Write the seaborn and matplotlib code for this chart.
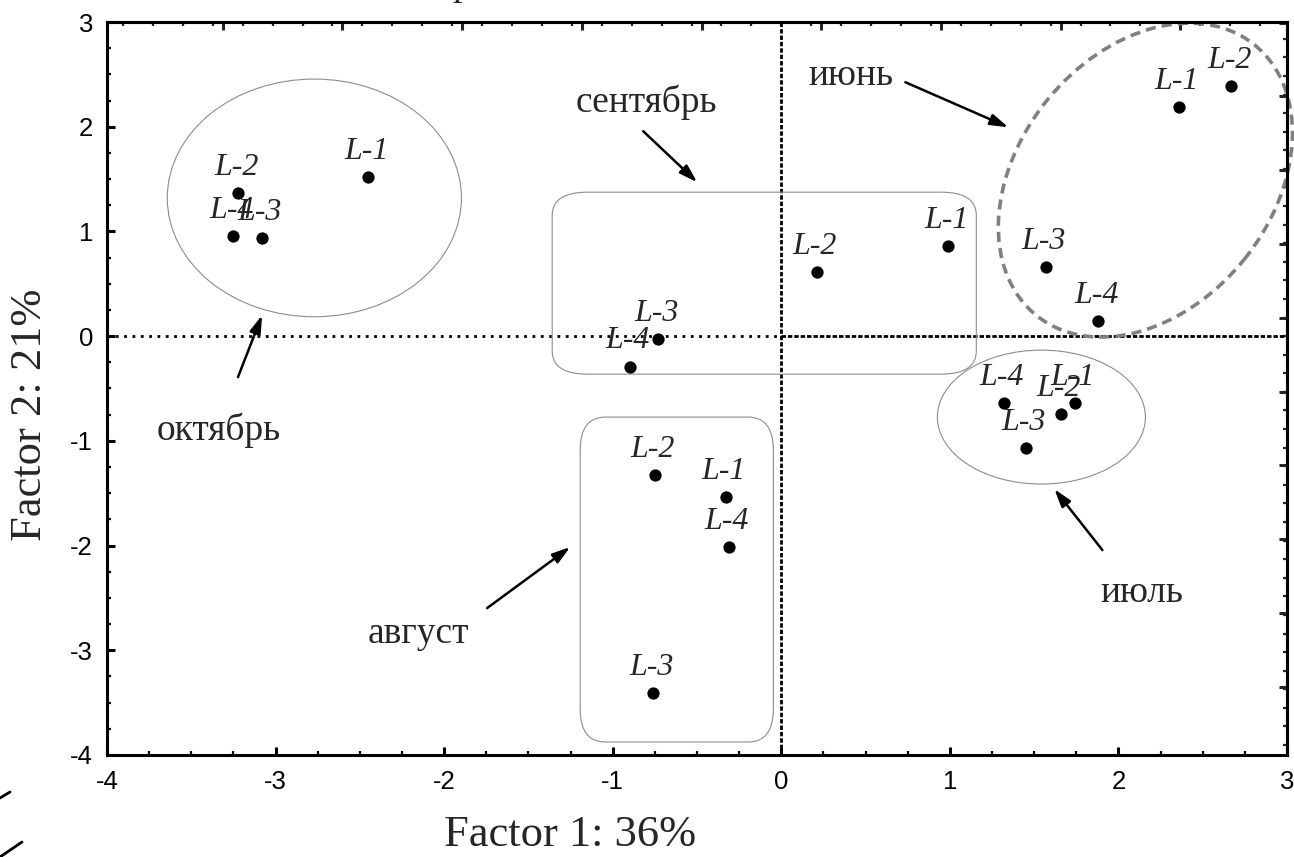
import numpy as np
import pandas as pd
import matplotlib
matplotlib.use("Agg")
import matplotlib.pyplot as plt
import seaborn as sns
from matplotlib.patches import Ellipse, FancyBboxPatch
from matplotlib.ticker import MultipleLocator, FixedLocator
from matplotlib.transforms import Affine2D
from matplotlib.lines import Line2D

# ---- data ----
months = ["июнь"] * 4 + ["июль"] * 4 + ["август"] * 4 + ["сентябрь"] * 4 + ["октябрь"] * 4
sites = ["L-1", "L-2", "L-3", "L-4"] * 5
factor1 = [2.36, 2.67, 1.57, 1.88,
           1.74, 1.66, 1.45, 1.32,
           -0.33, -0.75, -0.76, -0.31,
           0.99, 0.21, -0.73, -0.90,
           -2.45, -3.22, -3.08, -3.25]
factor2 = [2.19, 2.39, 0.66, 0.14,
           -0.64, -0.74, -1.07, -0.64,
           -1.54, -1.33, -3.41, -2.01,
           0.86, 0.61, -0.03, -0.29,
           1.52, 1.37, 0.94, 0.96]

# month captions and their arrows
group_names = ["июнь", "июль", "август", "сентябрь", "октябрь"]
caption_x = [0.41, 2.14, -2.15, -0.80, -3.34]
caption_y = [2.40, -2.54, -2.93, 2.14, -0.99]
arrow_from = [(0.736, 2.425), (1.905, -2.043), (-1.745, -2.597), (-0.819, 1.957), (-3.223, -0.391)]
arrow_to = [(1.347, 1.995), (1.620, -1.461), (-1.252, -2.014), (-0.499, 1.470), (-3.080, 0.200)]

df = pd.DataFrame({"month": months, "site": sites, "f1": factor1, "f2": factor2})

sns.set_theme(style="ticks")
plt.rcParams["font.family"] = ["Liberation Serif", "DejaVu Serif"]
plt.rcParams["axes.linewidth"] = 2.2
plt.rcParams["axes.unicode_minus"] = False

fig = plt.figure(figsize=(12.94, 8.57), dpi=100)
ax = fig.add_axes([107 / 1294, 1 - 755 / 857, (1287 - 107) / 1294, (755 - 22) / 857])

# reference lines through the origin
ax.plot([-4, 0], [0, 0], color="black", lw=2, linestyle=(0, (1, 2)), zorder=1)
ax.plot([0, 3], [0, 0], color="black", lw=2, linestyle=(0, (1.6, 0.7)), zorder=1)
ax.plot([0, 0], [-4, 3], color="black", lw=2, linestyle=(0, (1.6, 0.7)), zorder=1)

sns.scatterplot(data=df, x="f1", y="f2", color="black", s=78, edgecolor="black",
                linewidth=0, legend=False, ax=ax, zorder=3)

for _, r in df.iterrows():
    ax.annotate(r["site"], (r["f1"], r["f2"]), xytext=(-1.5, 13), textcoords="offset points",
                ha="center", va="baseline", fontsize=23, fontstyle="italic", zorder=4)

# group outlines
thin = dict(fill=False, edgecolor="#8c8c8c", lw=0.8, zorder=2)
ax.add_patch(Ellipse((-2.77, 1.32), 1.745, 2.27, **thin))
ax.add_patch(Ellipse((1.543, -0.773), 1.234, 1.279, **thin))
ax.add_patch(FancyBboxPatch((-1.359, -0.363), 2.516, 1.738,
                            boxstyle="round,pad=0,rounding_size=0.21", mutation_aspect=1.05, **thin))
ax.add_patch(FancyBboxPatch((-1.193, -3.876), 1.146, 3.103,
                            boxstyle="round,pad=0,rounding_size=0.15", mutation_aspect=2.1, **thin))
# rotated dashed ellipse for June, sized in screen pixels then mapped to data
june_tr = Affine2D().scale(1 / 168.5, 1 / 104.75).translate(2.16, 1.49) + ax.transData
ax.add_patch(Ellipse((0, 0), 2 * 173.8, 2 * 126.7, angle=51.2, transform=june_tr, fill=False,
                     edgecolor="#808080", lw=2.6, linestyle=(0, (2.8, 1.7)), zorder=2, clip_on=False))

for name, tx, ty, a0, a1 in zip(group_names, caption_x, caption_y, arrow_from, arrow_to):
    ax.text(tx, ty, name, ha="center", va="baseline", fontsize=27, zorder=4)
    ax.annotate("", xy=a1, xytext=a0,
                arrowprops=dict(arrowstyle="-|>,head_length=0.9,head_width=0.28", lw=1.8,
                                color="black", shrinkA=0, shrinkB=0), zorder=4)

ax.set_xlim(-4, 3)
ax.set_ylim(-4, 3)
ax.set_xlabel("")
ax.set_ylabel("")
ax.xaxis.set_major_locator(MultipleLocator(1))
ax.yaxis.set_major_locator(MultipleLocator(1))
ax.xaxis.set_minor_locator(MultipleLocator(0.25))
ax.yaxis.set_minor_locator(MultipleLocator(0.25))
ax.tick_params(which="both", direction="in", color="black", top=False, right=False)
ax.tick_params(which="major", length=6, width=2.2, labelsize=18.5, labelfontfamily="Liberation Sans",
               labelcolor="black")
ax.tick_params(which="minor", length=3, width=1.6)
ax.tick_params(axis="x", which="major", pad=11)
ax.tick_params(axis="y", which="major", pad=10)
for s in ax.spines.values():
    s.set_visible(True)
    s.set_linewidth(2.2)
    s.set_color("black")

# top / right ticks follow another spacing in the original
top = ax.secondary_xaxis("top")
top.xaxis.set_major_locator(FixedLocator(-1.893 + 0.71 * np.arange(-3, 7)))
top.xaxis.set_minor_locator(MultipleLocator(0.1775))
top.tick_params(which="both", direction="in", labeltop=False)
top.tick_params(which="major", length=6, width=2.2)
top.tick_params(which="minor", length=3, width=1.6)
top.spines["top"].set_linewidth(2.2)
right = ax.secondary_yaxis("right")
right.yaxis.set_major_locator(FixedLocator(2.29 - 0.705 * np.arange(-1, 10)))
right.yaxis.set_minor_locator(MultipleLocator(0.1775))
right.tick_params(which="both", direction="in", labelright=False)
right.tick_params(which="major", length=6, width=2.2)
right.tick_params(which="minor", length=3, width=1.6)
right.spines["right"].set_linewidth(2.2)

fig.text(570 / 1294, 1 - 835 / 857, "Factor 1: 36%", ha="center", va="center", fontsize=32)
fig.text(30 / 1294, 1 - 415 / 857, "Factor 2: 21%", ha="center", va="center", fontsize=32, rotation=90)

# clipped remains of a title and scan marks at the edges
fig.text(462 / 1294, 1 + 5 / 857, "р", ha="center", va="baseline", fontsize=27)
fig.add_artist(Line2D([0, 10 / 1294], [1 - 798 / 857, 1 - 792 / 857], color="black", lw=2))
fig.add_artist(Line2D([0, 22 / 1294], [0, 1 - 842 / 857], color="black", lw=2))

fig.savefig("out.png", dpi=100, facecolor="white")
